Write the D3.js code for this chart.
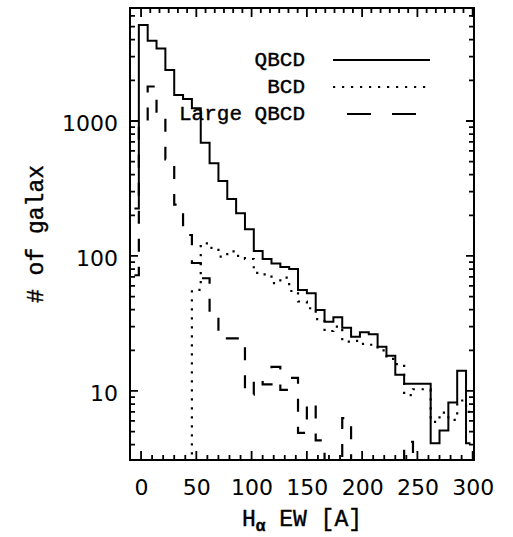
<!DOCTYPE html>
<html><head><meta charset="utf-8">
<script src="https://cdn.jsdelivr.net/npm/d3@7"></script>
<style>body{margin:0;background:#fff}</style>
</head><body>
<svg id="c" width="513" height="537"></svg>
<script>
// ---- data ----
const binCenters = [-6,2,10,18,26,34,42,50,58,66,74,82,90,98,106,114,122,130,138,146,154,162,170,178,186,194,202,210,218,226,234,242,250,258,266,274,282,290,298];
const qbcd = [225,5140,3935,3450,2390,1559,1456,1242,690,486,359,264,207,158,109,95,88,83,80,56,53,39.8,32.6,35.2,29.4,25.2,27.2,26.3,21.3,18.2,13.2,11.3,11.3,11.3,4.1,5.1,8.2,14.1,4.1];
const bcd = [0,0,0,0,0,0,0,56,124,115,99,108,100,95,75,73,63,69,55,46,41,34,27.8,30,23.2,23.5,22.3,22,20,17.3,15.8,9.3,10.3,10.3,5.9,6.9,6.1,8.5,7];
const largeQbcd = [72,1000,1800,1172,520,240,143,88.7,68.4,36.6,24.5,24.5,24.5,9.4,12.4,11.2,15.1,10.2,12.5,4.9,8.15,4.3,0,0,6.3,0,0,0,0,0,0,4.2,0,0,0,0,0,0,0];
const seriesNames = ["QBCD","BCD","Large QBCD"];
const xTickValues = [0,50,100,150,200,250,300];
const xTickLabels = ["0","50","100","150","200","250","300"];
const xMinorBottom = [10,20,30,40,60,70,80,90,110,120,130,140,160,170,180,190,210,220,230,240,260,270,280,290];
const yTickValues = [10,100,1000];
const yTickLabels = ["10","100","1000"];
const yMinor = [4,5,6,7,8,9,20,30,40,50,60,70,80,90,200,300,400,500,600,700,800,900,2000,3000,4000,5000,6000];
const xTitle = ["H","α"," EW [A]"];
const yTitle = "# of galax";

// ---- layout ----
const L=130,R=474,T=8,B=460;
const svg = d3.select("#c");
const x = d3.scaleLinear().domain([-10,301.2]).range([L,R]);
const yMin = 3.08;
const y = d3.scaleLog().domain([yMin,6870]).range([B,T]);

svg.append("defs").append("clipPath").attr("id","clip")
  .append("rect").attr("x",L).attr("y",T).attr("width",R-L).attr("height",B-T);

const line = d3.line()
  .x((d,i)=>x(binCenters[i]))
  .y(d=>y(Math.max(d,yMin)))
  .curve(d3.curveStep);

const g = svg.append("g").attr("clip-path","url(#clip)");
g.append("path").datum(qbcd).attr("d",line)
  .attr("fill","none").attr("stroke","#000").attr("stroke-width",2);
g.append("path").datum(bcd).attr("d",line)
  .attr("fill","none").attr("stroke","#000").attr("stroke-width",2.2)
  .attr("stroke-dasharray","2.2,6.8");
g.append("path").datum(largeQbcd).attr("d",line)
  .attr("fill","none").attr("stroke","#000").attr("stroke-width",2.2)
  .attr("stroke-dasharray","13,15");

// ---- axes (labels via d3.axis, tick marks drawn from the same scales) ----
const tickFont = "DejaVu Sans, sans-serif";
const axB = svg.append("g").attr("transform",`translate(0,${B})`)
  .call(d3.axisBottom(x).tickValues(xTickValues).tickSize(0)
    .tickFormat((d,i)=>xTickLabels[i]));
axB.select(".domain").remove();
axB.selectAll(".tick text").attr("y",35).attr("dy",0)
  .style("font-family",tickFont).style("font-size","22px").attr("fill","#000");

const axL = svg.append("g").attr("transform",`translate(${L},0)`)
  .call(d3.axisLeft(y).tickValues(yTickValues).tickSize(0)
    .tickFormat((d,i)=>yTickLabels[i]));
axL.select(".domain").remove();
axL.selectAll(".tick text").attr("x",-12).attr("dy",10)
  .style("font-family",tickFont).style("font-size","22px").attr("fill","#000");

const topMinor = d3.range(0,301,50/6).filter(v=>Math.abs(v/50-Math.round(v/50))>1e-6);
let tickPath = d3.path();
function xTicks(vals, y0, len){
  vals.forEach(v=>{ const px=x(v); tickPath.moveTo(px,y0); tickPath.lineTo(px,y0+len); });
}
function yTicks(vals, x0, len){
  vals.forEach(v=>{ const py=y(v); tickPath.moveTo(x0,py); tickPath.lineTo(x0+len,py); });
}
xTicks(xTickValues, B, -9);
xTicks(xMinorBottom, B, -5);
xTicks(xTickValues, T, 9);
xTicks(topMinor, T, 5);
yTicks(yTickValues, L, 8);
yTicks(yMinor, L, 5);
yTicks(yTickValues, R, -8);
yTicks(yMinor, R, -5);
svg.append("path").attr("d",tickPath.toString())
  .attr("fill","none").attr("stroke","#000").attr("stroke-width",1.8);

// frame
svg.append("rect").attr("x",L).attr("y",T).attr("width",R-L).attr("height",B-T)
  .attr("fill","none").attr("stroke","#000").attr("stroke-width",2);

// ---- titles ----
const monoFont = "Liberation Mono, Courier New, monospace";
const xt = svg.append("text").attr("x",(L+R)/2).attr("y",526).attr("text-anchor","middle")
  .style("font-family",monoFont).style("font-size","23px").attr("fill","#000")
  .attr("stroke","#000").attr("stroke-width",0.4);
xt.append("tspan").text(xTitle[0]);
xt.append("tspan").attr("dy",5).style("font-size","16px").style("font-weight","bold").text(xTitle[1]);
xt.append("tspan").attr("dy",-5).text(xTitle[2]);

svg.append("text").attr("transform",`translate(43,${(T+B)/2}) rotate(-90)`)
  .attr("text-anchor","middle").style("font-family",monoFont).style("font-size","23px")
  .attr("fill","#000").attr("stroke","#000").attr("stroke-width",0.4).text(yTitle);

// ---- legend ----
const legY = [66,93,120];
const legLines = [[333,430,null],[333,432,"2.2,6.8"],[347,418,"24,21"]];
seriesNames.forEach((n,i)=>{
  svg.append("text").attr("x",305).attr("y",legY[i]).attr("text-anchor","end")
    .style("font-family",monoFont).style("font-size","21px").attr("fill","#000")
    .attr("stroke","#000").attr("stroke-width",0.4).text(n);
  const ln = svg.append("line").attr("x1",legLines[i][0]).attr("x2",legLines[i][1])
    .attr("y1",legY[i]-6).attr("y2",legY[i]-6).attr("stroke","#000").attr("stroke-width",2.2);
  if(legLines[i][2]) ln.attr("stroke-dasharray",legLines[i][2]);
});
</script>
</body></html>
